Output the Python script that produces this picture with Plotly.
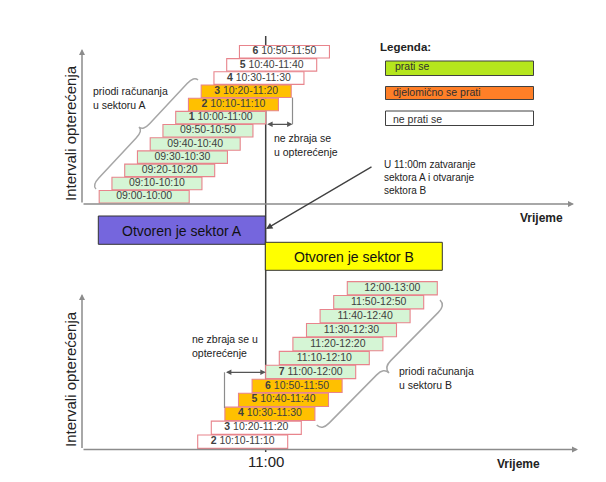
import plotly.graph_objects as go

W, H = 606, 482
FONT = "Liberation Sans, Arial, sans-serif"

# ---------------- data ----------------
TOP_INTERVALS = ["09:00-10:00", "09:10-10:10", "09:20-10:20", "09:30-10:30",
                 "09:40-10:40", "09:50-10:50", "10:00-11:00", "10:10-11:10",
                 "10:20-11:20", "10:30-11:30", "10:40-11:40", "10:50-11:50"]
TOP_NUMBERS = ["", "", "", "", "", "", "1", "2", "3", "4", "5", "6"]
TOP_STATUS = ["prati se", "prati se", "prati se", "prati se", "prati se", "prati se",
              "prati se", "djelomično se prati", "djelomično se prati",
              "ne prati se", "ne prati se", "ne prati se"]

BOTTOM_INTERVALS = ["10:10-11:10", "10:20-11:20", "10:30-11:30", "10:40-11:40",
                    "10:50-11:50", "11:00-12:00", "11:10-12:10", "11:20-12:20",
                    "11:30-12:30", "11:40-12:40", "11:50-12:50", "12:00-13:00"]
BOTTOM_NUMBERS = ["2", "3", "4", "5", "6", "7", "", "", "", "", "", ""]
BOTTOM_STATUS = ["ne prati se", "ne prati se", "djelomično se prati",
                 "djelomično se prati", "djelomično se prati", "prati se",
                 "prati se", "prati se", "prati se", "prati se", "prati se", "prati se"]

LEGEND_LABELS = ["prati se", "djelomično se prati", "ne prati se"]
SWITCH_TIME = "11:00"

# ---------------- styles ----------------
BOX_FILL = {"prati se": "#d5f5d5", "djelomično se prati": "#ffc000", "ne prati se": "#ffffff"}
LEGEND_FILL = {"prati se": "#b5e61d", "djelomično se prati": "#ff7f27", "ne prati se": "#ffffff"}
BOX_LINE = "#e8848c"
AXIS_GRAY = "#8c8c8c"
BOX_PX = 90

# panel scales (pixels)
TOP_PX_PER_MIN, TOP_ANCHOR_MIN, TOP_ANCHOR_PX = 1.275, 600, 175.7
BOT_PX_PER_MIN, BOT_ANCHOR_MIN, BOT_ANCHOR_PX = 1.36, 660, 265.7
TOP_ROW0_PX, TOP_ROW_PX = 196.7, 13.18
BOT_ROW0_PX, BOT_ROW_PX = 441.7, 13.95


def to_min(t):
    h, m = t.split(":")
    return int(h) * 60 + int(m)


def px(x):
    return x / W


def py(y):
    return 1 - y / H


def xrange_for(scale, anchor_min, anchor_px):
    return [anchor_min - anchor_px / scale, anchor_min + (W - anchor_px) / scale]


def yrange_for(row0, rowpx):
    return [(row0 - H) / rowpx, row0 / rowpx]


fig = go.Figure()


def add_panel(intervals, numbers, status, scale, xa, ya):
    starts = [to_min(s.split("-")[0]) for s in intervals]
    rows = list(range(len(intervals)))
    bw = BOX_PX / scale
    fig.add_trace(go.Bar(
        orientation="h", y=rows, x=[bw] * len(rows), base=starts, width=0.95,
        marker=dict(color=[BOX_FILL[s] for s in status],
                    line=dict(color=BOX_LINE, width=1.1)),
        xaxis=xa, yaxis=ya, hoverinfo="skip", showlegend=False))
    texts = [(f"<b>{n}</b> " if n else "") + lab for n, lab in zip(numbers, intervals)]
    fig.add_trace(go.Scatter(
        x=[s + bw / 2 for s in starts], y=rows, mode="text", text=texts,
        textfont=dict(family=FONT, size=10.5, color="#404040"),
        xaxis=xa, yaxis=ya, hoverinfo="skip", showlegend=False))


add_panel(TOP_INTERVALS, TOP_NUMBERS, TOP_STATUS, TOP_PX_PER_MIN, "x", "y")
add_panel(BOTTOM_INTERVALS, BOTTOM_NUMBERS, BOTTOM_STATUS, BOT_PX_PER_MIN, "x2", "y2")

shapes = []
annotations = []


def line(x0, y0, x1, y1, color, width=1, layer="above"):
    shapes.append(dict(type="line", xref="paper", yref="paper",
                       x0=px(x0), y0=py(y0), x1=px(x1), y1=py(y1),
                       line=dict(color=color, width=width), layer=layer))


def arrow(hx, hy, tx, ty, color, width=1.3, double=False, size=1.0):
    annotations.append(dict(xref="paper", yref="paper", x=px(hx), y=py(hy),
                            axref="pixel", ayref="pixel", ax=tx - hx, ay=ty - hy,
                            text="", showarrow=True, arrowhead=2, arrowsize=size,
                            arrowwidth=width, arrowcolor=color, standoff=0,
                            startstandoff=0, startarrowhead=2, startarrowsize=size,
                            arrowside="end+start" if double else "end"))


def text(x, y, s, size=10.5, anchor="left", color="#222222", angle=0, yanchor="middle"):
    annotations.append(dict(xref="paper", yref="paper", x=px(x), y=py(y), text=s,
                            showarrow=False, xanchor=anchor, yanchor=yanchor,
                            textangle=angle, align="left",
                            font=dict(family=FONT, size=size, color=color)))


def rect(x0, y0, x1, y1, fill, lc="#333333", lw=1):
    shapes.append(dict(type="rect", xref="paper", yref="paper",
                       x0=px(x0), y0=py(y0), x1=px(x1), y1=py(y1),
                       fillcolor=fill, line=dict(color=lc, width=lw)))


def brace(x0, y0, x1, y1, depth, sign, r=10):
    L = ((x1 - x0) ** 2 + (y1 - y0) ** 2) ** 0.5
    ux, uy = (x1 - x0) / L, (y1 - y0) / L
    nx, ny = -uy * sign, ux * sign
    mx, my = (x0 + x1) / 2, (y0 + y1) / 2
    h = depth / 2

    def P(x, y):
        return f"{px(x):.5f},{py(y):.5f}"

    pts = [
        "M " + P(x0, y0),
        "Q " + P(x0 + nx * h, y0 + ny * h) + " " + P(x0 + nx * h + ux * r, y0 + ny * h + uy * r),
        "L " + P(mx - ux * r + nx * h, my - uy * r + ny * h),
        "Q " + P(mx + nx * h, my + ny * h) + " " + P(mx + nx * depth, my + ny * depth),
        "Q " + P(mx + nx * h, my + ny * h) + " " + P(mx + ux * r + nx * h, my + uy * r + ny * h),
        "L " + P(x1 - ux * r + nx * h, y1 - uy * r + ny * h),
        "Q " + P(x1 + nx * h, y1 + ny * h) + " " + P(x1, y1),
    ]
    shapes.append(dict(type="path", xref="paper", yref="paper", path=" ".join(pts),
                       line=dict(color="#a6a6a6", width=1.5)))


# switch-time vertical line (11:00 on the bottom time scale), behind all boxes
sw = to_min(SWITCH_TIME)
sw_px = BOT_ANCHOR_PX + (sw - BOT_ANCHOR_MIN) * BOT_PX_PER_MIN
line(sw_px, 36, sw_px, 452, "#404040", 1.5, layer="below")

# axes of top panel
arrow(82, 49, 82, 204, AXIS_GRAY, width=1.5, size=0.8)
arrow(574, 204, 82, 204, AXIS_GRAY, width=1.5, size=0.8)
# axes of bottom panel
arrow(82, 294, 82, 449.5, AXIS_GRAY, width=1.5, size=0.8)
arrow(578, 449.5, 82, 449.5, AXIS_GRAY, width=1.5, size=0.8)

text(70, 133, "Intervali opterećenja", size=15, anchor="center", angle=-90)
text(70, 379, "Intervali opterećenja", size=15, anchor="center", angle=-90)
text(541, 218, "<b>Vrijeme</b>", size=12, anchor="center")
text(518, 464, "<b>Vrijeme</b>", size=12, anchor="center")
text(sw_px, 461, SWITCH_TIME, size=15, anchor="center")

# legend
text(378, 47, "<b>Legenda:</b>", size=11.5)
leg_y = [(61, 75.5), (86.5, 99.5), (111, 125.5)]
leg_tx = [(393, 66), (390.5, 92), (390.5, 118.5)]
for lab, (y0, y1), (tx, ty) in zip(LEGEND_LABELS, leg_y, leg_tx):
    rect(385.5, y0, 533.5, y1, LEGEND_FILL[lab], lc="#404040")
    text(tx, ty, lab, size=10.5, color="#303030")

# sector boxes
rect(98.3, 216, 265.3, 244.3, "#7566dd", lc="#333333")
text(181.8, 230.5, "Otvoren je sektor A", size=14, anchor="center", color="#111111")
rect(265.3, 242.3, 442.3, 270.3, "#ffff00", lc="#333333")
text(353.8, 256.5, "Otvoren je sektor B", size=14, anchor="center", color="#111111")

# note about switch + arrow
text(381.5, 177.5, "U 11:00m zatvaranje<br>sektora A i otvaranje<br>sektora B", size=10)
arrow(266, 229, 373, 166, "#404040", width=1.3, size=1)

# "ne zbraja se" - top
line(292.5, 97.5, 292.5, 124.3, AXIS_GRAY, 1.2)
arrow(292.5, 124.3, 265.7, 124.3, "#555555", width=1.2, double=True, size=0.9)
text(272, 144.5, "ne zbraja se<br>u opterećenje", size=10.5)

# "ne zbraja se" - bottom
line(224.5, 372.3, 224.5, 408, AXIS_GRAY, 1.2)
arrow(265.7, 372.3, 224.5, 372.3, "#555555", width=1.2, double=True, size=0.9)
text(190, 346, "ne zbraja se u<br>opterećenje", size=10.5)

# braces
brace(96, 189, 198, 80, 11, -1)
text(90.5, 98, "priodi računanja<br>u sektoru A", size=10.5)
brace(316.7, 425, 440, 300, 15, 1)
text(397, 377.5, "priodi računanja<br>u sektoru B", size=10.5)

fig.update_layout(
    width=W, height=H, autosize=False,
    margin=dict(l=0, r=0, t=0, b=0, pad=0),
    paper_bgcolor="white", plot_bgcolor="rgba(0,0,0,0)",
    showlegend=False, barmode="overlay",
    xaxis=dict(domain=[0, 1], range=xrange_for(TOP_PX_PER_MIN, TOP_ANCHOR_MIN, TOP_ANCHOR_PX),
               visible=False, fixedrange=True),
    yaxis=dict(domain=[0, 1], range=yrange_for(TOP_ROW0_PX, TOP_ROW_PX),
               visible=False, fixedrange=True),
    xaxis2=dict(domain=[0, 1], anchor="y2",
                range=xrange_for(BOT_PX_PER_MIN, BOT_ANCHOR_MIN, BOT_ANCHOR_PX),
                visible=False, fixedrange=True),
    yaxis2=dict(domain=[0, 1], anchor="x2", range=yrange_for(BOT_ROW0_PX, BOT_ROW_PX),
                visible=False, fixedrange=True),
    shapes=shapes, annotations=annotations,
)

fig.write_html("out.html", config={"displayModeBar": False},
               post_script="document.body.style.margin='0';"
                           "document.body.style.overflow='hidden';")
